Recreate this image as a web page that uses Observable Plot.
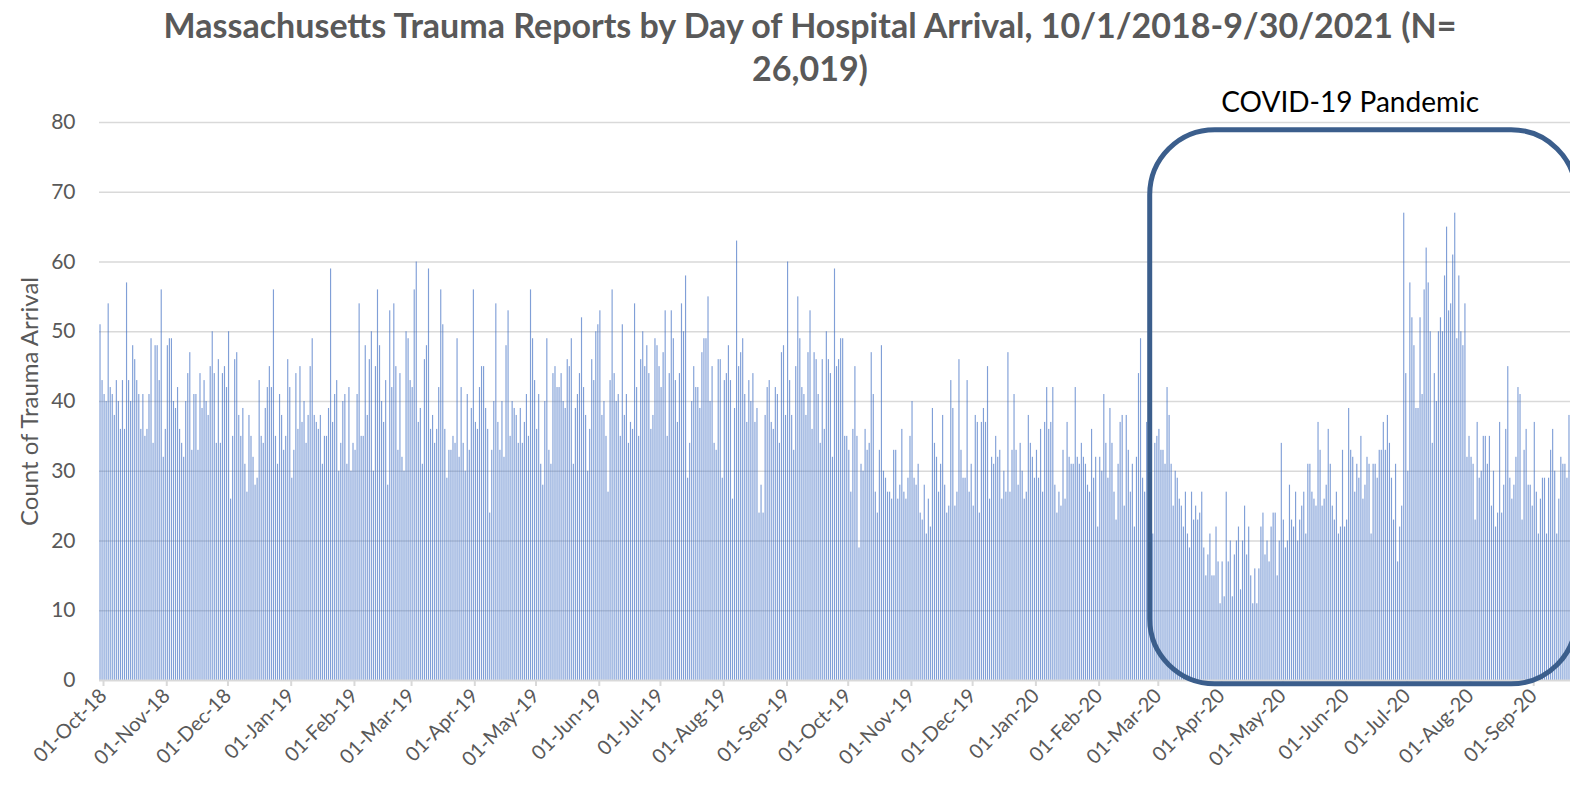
<!DOCTYPE html>
<html><head><meta charset="utf-8">
<script src="https://cdn.jsdelivr.net/npm/d3@7"></script>
<script src="https://cdn.jsdelivr.net/npm/@observablehq/plot@0.6"></script>
<style>
html,body{margin:0;padding:0;background:#fff;overflow:hidden;}
#wrap{position:relative;width:1570px;height:785px;overflow:hidden;}
#title{position:absolute;left:0;top:3px;width:1620px;text-align:center;font-family:Lato,sans-serif;font-weight:bold;font-size:34px;color:#595959;line-height:43px;}
#chart{position:absolute;left:0;top:80px;}
</style></head>
<body><div id="wrap"><div id="title">Massachusetts Trauma Reports by Day of Hospital Arrival, 10/1/2018-9/30/2021 (N=<br>26,019)</div><div id="chart"></div></div>
<script>
// Daily counts starting 2018-10-01
const startDate = "2018-10-01";
const countsOct2018toSep2019 = [
51,43,41,40,54,42,41,38,43,40,36,43,36,57,43,40,48,46,43,41,36,41,35,36,41,49,34,48,48,43,56,32,36,48,49,49,40,39,42,36,34,32,40,44,47,33,41,41,33,44,39,43,40,38,45,50,44,34,46,34,
44,45,42,50,26,35,46,47,38,35,39,31,27,38,35,32,28,29,43,35,34,39,42,45,42,56,35,31,41,38,33,35,46,42,29,33,44,36,45,37,40,34,38,45,49,38,37,36,38,31,35,35,39,59,37,41,43,30,34,40,
41,31,42,30,34,33,41,54,35,35,48,38,46,50,30,45,56,48,40,37,43,28,53,42,54,45,33,44,32,30,50,49,43,42,56,60,37,39,31,46,48,59,36,38,34,36,42,56,51,36,29,33,33,35,34,49,32,42,34,30,
41,33,39,56,37,36,42,45,45,39,36,24,33,40,54,37,33,40,32,48,53,35,40,39,38,34,39,34,37,41,35,56,49,43,36,41,31,28,40,49,33,31,44,45,42,42,44,40,39,46,45,49,31,39,41,44,52,42,38,30,
36,46,43,50,51,53,38,40,35,27,43,56,44,40,41,35,51,38,41,34,37,36,54,42,35,46,50,45,48,44,36,38,49,48,45,42,47,53,35,44,53,49,43,37,44,54,50,58,29,34,40,45,42,42,39,47,49,49,55,40,
45,34,33,46,46,29,43,44,48,43,26,39,63,45,47,49,41,37,43,40,44,37,39,24,28,24,38,42,43,37,36,42,41,34,47,48,38,60,43,38,33,45,55,49,42,41,38,47,53,36,47,46,41,34,46,36,50,46,44,32,59,
45,46,49,49
];
const countsOct2019toSep2020 = [
35,35,33,27,36,45,35,19,31,30,36,33,34,47,41,27,24,33,48,30,29,27,27,26,33,33,26,28,36,27,26,29,35,40,29,28,31,24,23,28,21,26,22,39,34,32,27,31,38,28,24,25,43,39,25,27,
46,33,29,29,43,27,31,25,38,37,24,37,39,37,45,26,32,31,35,32,33,26,30,27,47,27,33,41,33,28,34,30,26,27,38,34,32,29,33,29,36,27,37,42,36,37,42,28,24,27,25,33,26,37,32,31,31,42,32,31,
34,32,31,28,27,36,29,32,22,32,30,41,34,29,39,34,27,23,31,37,38,25,38,33,27,31,22,32,44,49,29,27,37,33,35,21,34,35,36,33,33,31,42,38,31,25,30,29,26,25,22,27,21,19,27,23,25,23,24,27,19,
15,18,21,15,15,22,17,11,17,12,27,17,20,12,18,20,22,13,20,25,18,22,15,11,16,11,16,22,24,18,20,17,22,24,24,15,20,34,23,19,20,28,23,22,27,20,23,25,27,21,31,31,27,26,25,37,33,25,26,28,
36,31,25,23,27,21,22,33,22,23,39,33,32,27,31,29,35,26,28,32,31,21,31,31,29,33,33,37,33,38,34,29,23,31,17,22,25,67,44,30,57,52,48,39,39,52,41,56,62,57,50,34,44,40,50,52,50,58,65,53,
54,61,67,49,58,50,48,54,32,35,32,31,23,37,29,30,35,35,31,35,25,30,22,24,37,24,28,36,45,29,26,28,32,42,41,23,33,36,28,28,25,37,27,21,26,29,29,21,29,33,36,30,21,26,32,31,31,29,38
];
const monthTickLabels = ["01-Oct-18","01-Nov-18","01-Dec-18","01-Jan-19","01-Feb-19","01-Mar-19","01-Apr-19","01-May-19","01-Jun-19","01-Jul-19","01-Aug-19","01-Sep-19","01-Oct-19","01-Nov-19","01-Dec-19","01-Jan-20","01-Feb-20","01-Mar-20","01-Apr-20","01-May-20","01-Jun-20","01-Jul-20","01-Aug-20","01-Sep-20"];
const yTicks = [0,10,20,30,40,50,60,70,80];
const yLabel = "Count of Trauma Arrival";
const pandemicLabel = "COVID-19 Pandemic";
const pandemicStart = "2020-02-28";
const pandemicEnd = "2020-09-24";
const pandemicLabelDate = "2020-06-05";
const xEnd = "2020-09-21";

const parseDay = d3.utcParse("%Y-%m-%d");
const parseTick = d3.utcParse("%d-%b-%y");
const start = parseDay(startDate);
const counts = countsOct2018toSep2019.concat(countsOct2019toSep2020);
const data = counts.map((c, i) => ({start: d3.utcDay.offset(start, i), end: d3.utcDay.offset(start, i + 1), count: c}));
const tickDates = monthTickLabels.map(parseTick);
const tickLabelOf = new Map(tickDates.map((d, i) => [+d, monthTickLabels[i]]));
const covid = [{x1: parseDay(pandemicStart), x2: parseDay(pandemicEnd), y1: -0.55, y2: 78.9}];

const chart = Plot.plot({
  width: 1570, height: 705,
  marginLeft: 99, marginRight: 0, marginTop: 42, marginBottom: 105,
  style: {fontFamily: "Lato, sans-serif", fontSize: "21px", color: "#595959", background: "transparent"},
  x: {type: "utc", domain: [start, parseDay(xEnd)]},
  y: {domain: [0, 80]},
  marks: [
    Plot.ruleY(yTicks.filter(d => d > 0), {stroke: "#d9d9d9", strokeWidth: 1.5}),
    Plot.rectY(data, {x1: "start", x2: "end", y: "count", fill: "#4472c4", fillOpacity: 0.68, insetLeft: 0.45, insetRight: 0.45}),
    Plot.ruleY([0], {stroke: "#d9d9d9", strokeWidth: 2}),
    Plot.axisX(tickDates, {tickFormat: d => tickLabelOf.get(+d), tickRotate: -45, tickSize: 6, tickPadding: 6, stroke: "#d9d9d9", strokeWidth: 2, fontSize: 20, dx: 4, label: null}),
    Plot.axisY(yTicks, {tickSize: 0, tickPadding: 24, fontSize: 21, label: null}),
    Plot.text([yLabel], {text: d => d, frameAnchor: "left", textAnchor: "middle", rotate: -90, dx: -69, fontSize: 24, fill: "#595959"}),
    Plot.rect(covid, {x1: "x1", x2: "x2", y1: "y1", y2: "y2", rx: 65, ry: 65, fill: "none", stroke: "#3b5e8c", strokeWidth: 5}),
    Plot.text([pandemicLabel], {text: d => d, x: () => parseDay(pandemicLabelDate), y: () => 82.8, fontSize: 28, fill: "#000"})
  ]
});
document.getElementById("chart").appendChild(chart);
</script></body></html>
